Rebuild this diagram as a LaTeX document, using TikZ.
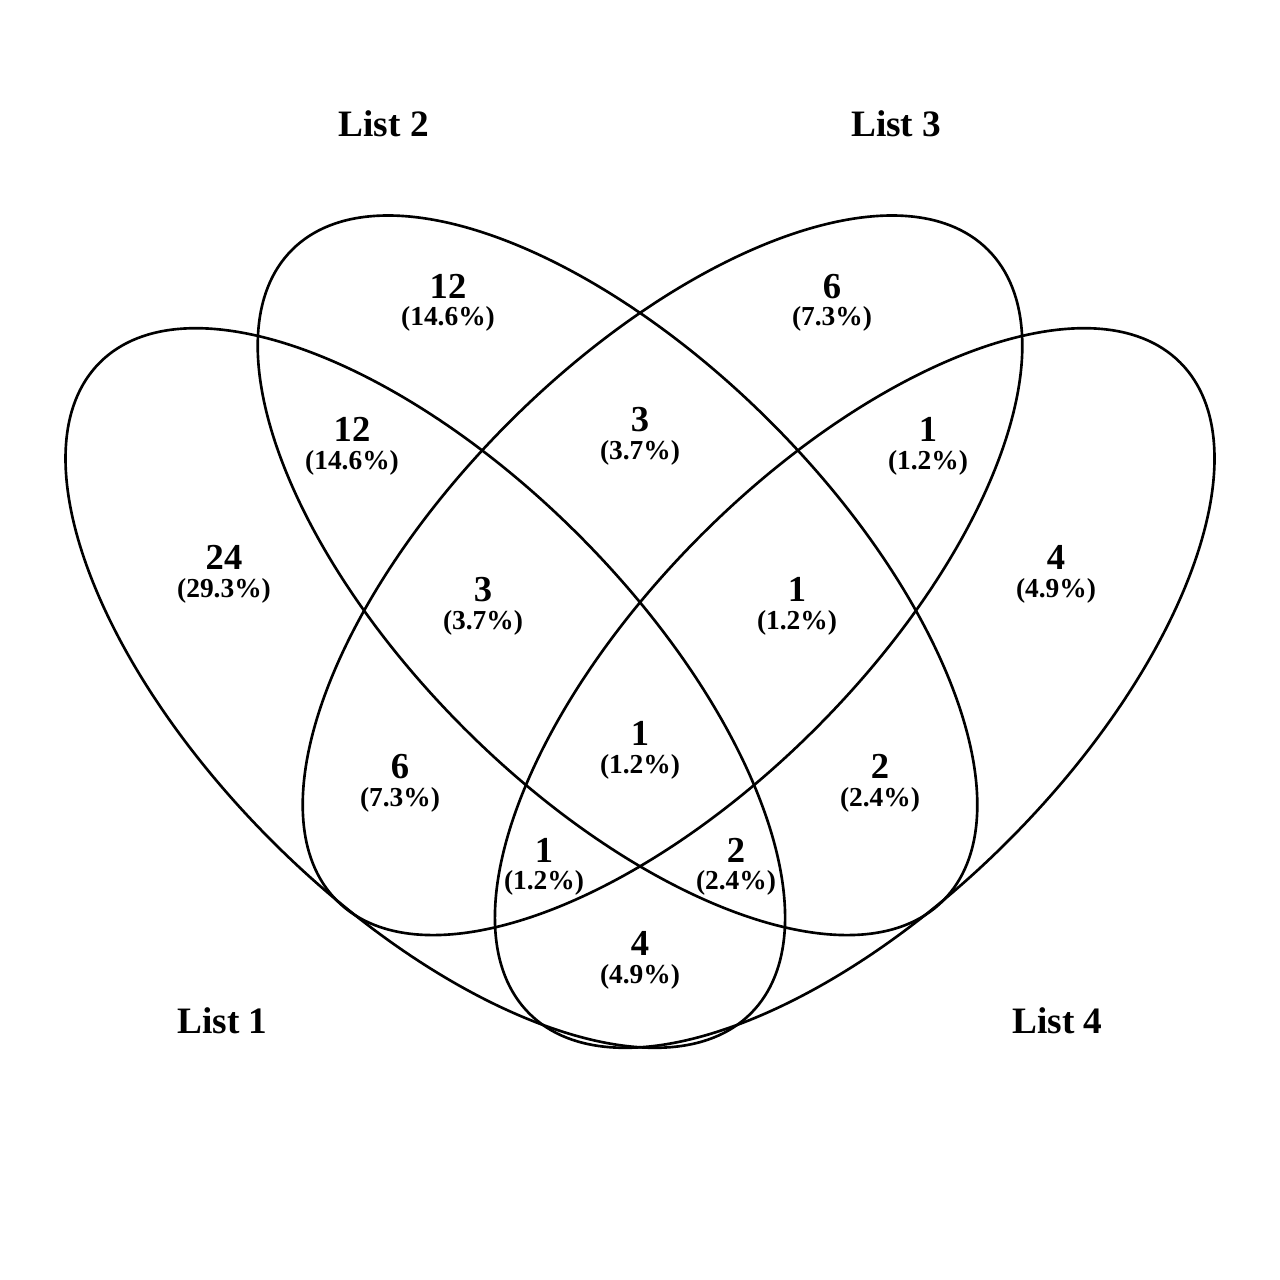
\documentclass[tikz,border=0pt]{standalone}
\usepackage{fontspec}
\setmainfont{Liberation Serif}
\begin{document}
\begin{tikzpicture}[x=0.01cm,y=-0.01cm,
  setline/.style={draw=black, line width=0.75pt},
  num/.style={font=\fontsize{10.4}{12}\selectfont\bfseries, anchor=base, inner sep=0pt},
  pct/.style={font=\fontsize{7.8}{9}\selectfont\bfseries, anchor=base, inner sep=0pt},
  setname/.style={font=\fontsize{10.6}{12}\selectfont\bfseries, anchor=base, inner sep=0pt}]
\useasboundingbox[fill=white] (0,0) rectangle (1280,1280);
% ellipses
\draw[setline, shift={(425.3,688)}, rotate=-45] (0,0) ellipse [x radius=4.60cm, y radius=2.165cm];
\draw[setline, shift={(617.5,575.3)}, rotate=-45] (0,0) ellipse [x radius=4.60cm, y radius=2.165cm];
\draw[setline, shift={(662.5,575.3)}, rotate=45] (0,0) ellipse [x radius=4.60cm, y radius=2.165cm];
\draw[setline, shift={(854.7,688)}, rotate=45] (0,0) ellipse [x radius=4.60cm, y radius=2.165cm];
% set names
\node[setname] (l1) at (222.5,1033) {List 1};
\node[setname] (l2) at (383.8,137) {List 2};
\node[setname] (l3) at (896.2,137) {List 3};
\node[setname] (l4) at (1057.5,1033) {List 4};
% counts
\node[num] (n2) at (448,299) {12};   \node[pct] (p2) at (448,326) {(14.6\%)};
\node[num] (n3) at (832,299) {6};    \node[pct] (p3) at (832,326) {(7.3\%)};
\node[num] (n12) at (352,442) {12};  \node[pct] (p12) at (352,470) {(14.6\%)};
\node[num] (n23) at (640,432) {3};   \node[pct] (p23) at (640,460) {(3.7\%)};
\node[num] (n34) at (928,442) {1};   \node[pct] (p34) at (928,470) {(1.2\%)};
\node[num] (n1) at (224,570) {24};   \node[pct] (p1) at (224,598) {(29.3\%)};
\node[num] (n4) at (1056,570) {4};   \node[pct] (p4) at (1056,598) {(4.9\%)};
\node[num] (n123) at (483,602) {3};  \node[pct] (p123) at (483,630) {(3.7\%)};
\node[num] (n234) at (797,602) {1};  \node[pct] (p234) at (797,630) {(1.2\%)};
\node[num] (n1234) at (640,745) {1}; \node[pct] (p1234) at (640,773) {(1.2\%)};
\node[num] (n13) at (400,778) {6};   \node[pct] (p13) at (400,806) {(7.3\%)};
\node[num] (n24) at (880,778) {2};   \node[pct] (p24) at (880,806) {(2.4\%)};
\node[num] (n134) at (544,862) {1};  \node[pct] (p134) at (544,889) {(1.2\%)};
\node[num] (n124) at (736,862) {2};  \node[pct] (p124) at (736,889) {(2.4\%)};
\node[num] (n14) at (640,955) {4};   \node[pct] (p14) at (640,983) {(4.9\%)};
\end{tikzpicture}
\end{document}
